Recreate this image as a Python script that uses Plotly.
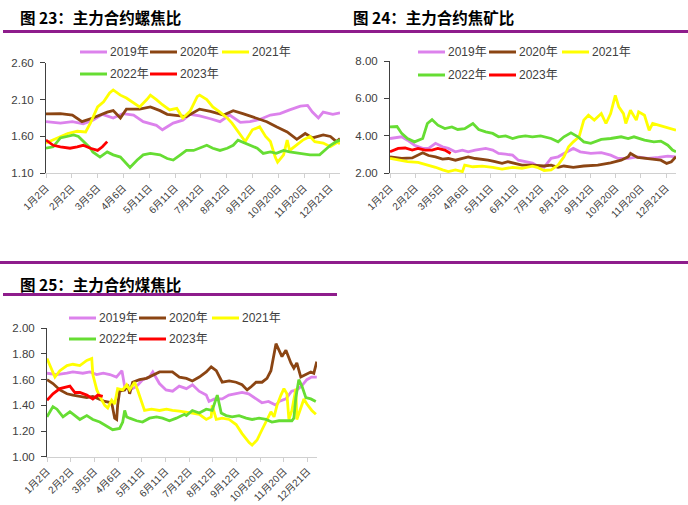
import plotly.graph_objects as go

W, H = 688, 505

# ---------------- data ----------------
TICK_DAYS = [0, 21.5, 43, 64.5, 86, 107.5, 129, 150.5, 172, 193.5, 215, 236.5]
TICK_TEXT = ["1月2日", "2月2日", "3月5日", "4月6日", "5月11日", "6月11日", "7月12日",
             "8月12日", "9月12日", "10月20日", "11月20日", "12月21日"]
YEARS = ["2019年", "2020年", "2021年", "2022年", "2023年"]
COLORS = ["#DC82EC", "#8B4513", "#FFFF00", "#66DD33", "#FF0000"]

# Chart 23: rebar / coke ratio
c1_d_2019 = [0, 12, 22, 31, 39, 47, 56, 64, 73, 81, 92, 97, 106, 114, 120, 128, 137, 145, 153, 162, 170, 178,
             187, 195, 203, 212, 218, 222, 227, 231, 239, 245]
c1_v_2019 = [1.80, 1.78, 1.80, 1.77, 1.82, 1.90, 1.85, 1.91, 1.89, 1.80, 1.75, 1.69, 1.78, 1.82, 1.90, 1.88,
             1.84, 1.80, 1.89, 1.79, 1.80, 1.83, 1.89, 1.91, 1.96, 2.01, 2.02, 1.93, 1.85, 1.93, 1.90, 1.92]
c1_d_2020 = [0, 12, 22, 30, 39, 51, 56, 62, 67, 78, 87, 95, 101, 109, 117, 128, 137, 148, 156, 164, 176, 184,
             192, 201, 209, 216, 222, 231, 237, 242, 245]
c1_v_2020 = [1.905, 1.91, 1.89, 1.80, 1.85, 1.93, 1.95, 1.85, 1.97, 1.97, 2.00, 1.95, 1.90, 1.88, 1.87, 1.97,
             1.94, 1.89, 1.95, 1.91, 1.85, 1.80, 1.73, 1.66, 1.56, 1.64, 1.58, 1.62, 1.60, 1.53, 1.57]
c1_d_2021 = [0, 6, 12, 18, 26, 33, 37, 43, 48, 53, 56, 62, 67, 73, 78, 84, 87, 92, 97, 103, 109, 114, 120, 126,
             128, 134, 139, 145, 151, 155, 162, 166, 172, 178, 183, 187, 191, 193, 198, 201, 203, 209, 214, 220,
             224, 231, 237, 243, 245]
c1_v_2021 = [1.51, 1.55, 1.60, 1.64, 1.67, 1.66, 1.78, 2.00, 2.07, 2.19, 2.23, 2.16, 2.12, 2.05, 2.00, 2.10,
             2.16, 2.10, 2.03, 1.96, 1.98, 1.85, 1.94, 2.14, 2.16, 2.10, 2.00, 1.93, 1.85, 1.78, 1.62, 1.53,
             1.69, 1.73, 1.60, 1.53, 1.32, 1.25, 1.35, 1.55, 1.41, 1.48, 1.55, 1.60, 1.53, 1.51, 1.46, 1.52, 1.50]
c1_d_2022 = [0, 6, 12, 18, 23, 27, 31, 37, 39, 45, 51, 56, 62, 67, 70, 76, 81, 87, 95, 101, 106, 112, 117, 123,
             128, 134, 139, 145, 151, 156, 160, 164, 170, 176, 181, 187, 192, 198, 203, 212, 220, 228, 232, 237,
             242, 245]
c1_v_2022 = [1.44, 1.46, 1.58, 1.60, 1.62, 1.60, 1.53, 1.44, 1.39, 1.32, 1.39, 1.35, 1.32, 1.24, 1.18, 1.28,
             1.35, 1.37, 1.35, 1.30, 1.28, 1.35, 1.41, 1.41, 1.44, 1.48, 1.44, 1.41, 1.44, 1.48, 1.55, 1.52,
             1.48, 1.44, 1.37, 1.39, 1.37, 1.41, 1.39, 1.37, 1.35, 1.35, 1.41, 1.48, 1.53, 1.55]
c1_d_2023 = [0, 6, 12, 20, 26, 31, 37, 43, 47, 51]
c1_v_2023 = [1.55, 1.48, 1.46, 1.44, 1.46, 1.48, 1.44, 1.41, 1.46, 1.53]

# Chart 24: coke / iron ore ratio
c2_d_2019 = [0, 10, 15, 21, 28, 33, 39, 45, 50, 56, 62, 67, 73, 82, 88, 93, 99, 105, 110, 116, 122, 126, 132,
             138, 144, 149, 155, 157, 163, 172, 181, 189, 195, 204, 212, 221, 230, 238, 245]
c2_v_2019 = [3.86, 3.95, 3.77, 3.50, 3.33, 3.33, 3.60, 3.42, 3.33, 3.15, 3.24, 3.15, 3.24, 3.33, 3.24, 3.06,
             3.02, 2.97, 2.70, 2.62, 2.55, 2.40, 2.32, 2.80, 2.88, 3.06, 3.24, 3.33, 3.15, 3.06, 3.10, 2.97,
             2.80, 2.80, 2.88, 2.80, 2.85, 2.92, 2.88]
c2_d_2020 = [0, 10, 19, 24, 28, 33, 39, 45, 50, 56, 62, 67, 73, 79, 84, 90, 96, 101, 107, 113, 122, 132, 138,
             144, 149, 157, 166, 178, 189, 198, 204, 206, 212, 218, 226, 232, 237, 241, 245]
c2_v_2020 = [2.88, 2.80, 2.82, 2.97, 3.10, 2.95, 2.88, 2.76, 2.79, 2.70, 2.82, 2.88, 2.79, 2.76, 2.70, 2.62,
             2.53, 2.62, 2.53, 2.44, 2.44, 2.39, 2.44, 2.32, 2.39, 2.32, 2.39, 2.44, 2.56, 2.70, 2.88, 3.06,
             2.85, 2.80, 2.75, 2.70, 2.53, 2.62, 2.88]
c2_d_2021 = [0, 7, 15, 24, 33, 39, 45, 50, 56, 62, 64, 71, 79, 88, 96, 105, 113, 122, 126, 132, 138, 144, 149,
             153, 157, 162, 166, 170, 175, 181, 185, 189, 193, 196, 200, 202, 206, 211, 213, 218, 222, 225, 230,
             235, 241, 245]
c2_v_2021 = [2.80, 2.70, 2.62, 2.58, 2.44, 2.32, 2.18, 2.09, 2.18, 2.09, 2.44, 2.35, 2.38, 2.32, 2.22, 2.32,
             2.27, 2.38, 2.32, 2.15, 2.18, 2.44, 2.88, 3.42, 3.68, 3.95, 4.84, 5.10, 4.84, 5.19, 4.66, 5.19,
             6.16, 5.55, 5.19, 4.66, 5.37, 4.84, 5.28, 5.10, 4.30, 4.66, 4.57, 4.48, 4.39, 4.30]
c2_d_2022 = [0, 6, 10, 15, 21, 28, 32, 36, 41, 47, 53, 58, 64, 71, 76, 82, 88, 93, 99, 105, 110, 116, 122, 129,
             138, 144, 149, 155, 161, 166, 172, 181, 189, 198, 204, 209, 218, 226, 232, 238, 242, 245]
c2_v_2022 = [4.48, 4.50, 4.13, 3.86, 3.68, 3.86, 4.66, 4.87, 4.57, 4.39, 4.48, 4.34, 4.39, 4.66, 4.34, 4.21,
             4.13, 3.95, 4.00, 3.86, 3.95, 4.00, 3.95, 4.00, 3.86, 3.68, 3.95, 4.16, 3.95, 3.68, 3.60, 3.81,
             3.86, 3.95, 3.86, 3.95, 3.77, 3.68, 3.72, 3.50, 3.24, 3.15]
c2_d_2023 = [0, 7, 13, 19, 24, 30, 36, 41, 47, 52]
c2_v_2023 = [3.15, 3.33, 3.35, 3.24, 3.33, 3.24, 3.24, 3.33, 3.24, 3.06]

# Chart 25: coal / coke ratio
c3_d_2019 = [0, 9, 18, 23.5, 32.5, 39, 45, 51, 57, 63, 68, 70.5, 75, 81, 87, 93, 96, 102, 108, 114, 120, 126.5,
             132, 138, 144.5, 147, 152, 159, 165, 171.6, 177, 183, 189.7, 195, 201, 207.8, 210.5, 216.8, 222,
             226.7, 231, 235.8, 240, 244.8]
c3_v_2019 = [1.65, 1.64, 1.65, 1.66, 1.65, 1.66, 1.64, 1.65, 1.64, 1.62, 1.67, 1.545, 1.52, 1.545, 1.60, 1.62,
             1.66, 1.57, 1.52, 1.51, 1.55, 1.53, 1.56, 1.51, 1.48, 1.43, 1.45, 1.45, 1.48, 1.49, 1.50, 1.49,
             1.45, 1.42, 1.43, 1.40, 1.43, 1.45, 1.51, 1.52, 1.55, 1.60, 1.62, 1.62]
c3_d_2020 = [0, 5.4, 11.7, 18.1, 23.5, 29.8, 36.1, 41.6, 47.9, 52.4, 58.7, 61.4, 63.2, 64.1, 65.9, 70.5, 73.2,
             75, 77.7, 84, 90.3, 95.7, 102.1, 108.4, 113.8, 120.1, 126.5, 131.9, 138.2, 144.5, 149, 153.6, 156.3,
             159, 165.3, 171.6, 177, 181.6, 185.2, 189.7, 195.1, 199.6, 203.2, 206, 207.8, 210.5, 213.2, 216.8,
             221.3, 224, 226.7, 230.3, 234.9, 239.4, 242.1, 244.8]
c3_v_2020 = [1.60, 1.57, 1.52, 1.49, 1.48, 1.47, 1.46, 1.47, 1.45, 1.43, 1.42, 1.30, 1.29, 1.40, 1.51, 1.52,
             1.56, 1.49, 1.58, 1.60, 1.61, 1.63, 1.66, 1.66, 1.66, 1.62, 1.61, 1.59, 1.62, 1.66, 1.70, 1.67,
             1.62, 1.58, 1.59, 1.58, 1.56, 1.52, 1.545, 1.58, 1.58, 1.61, 1.67, 1.80, 1.88, 1.83, 1.78, 1.83,
             1.73, 1.69, 1.73, 1.62, 1.64, 1.66, 1.65, 1.74]
c3_d_2021 = [0, 4.5, 7.2, 11.7, 18.1, 23.5, 29.8, 36.1, 40.6, 41.6, 45.2, 47.9, 52.4, 55.1, 58.7, 61.4, 64.1,
             68.7, 72.3, 75, 79.5, 82.2, 85.8, 88.5, 94.8, 102.1, 108.4, 113.8, 120.1, 126.5, 131.9, 138.2,
             144.5, 149, 149.9, 153.6, 159, 165.3, 171.6, 177, 183.4, 186.1, 190.6, 195.1, 199.6, 203.2, 206,
             208.7, 212.3, 215, 217.7, 219.5, 222.2, 224, 225.8, 226.7, 230.3, 233.1, 235.8, 240.3, 244]
c3_v_2021 = [1.765, 1.67, 1.62, 1.67, 1.71, 1.72, 1.71, 1.75, 1.765, 1.64, 1.52, 1.47, 1.40, 1.38, 1.44, 1.41,
             1.53, 1.52, 1.56, 1.52, 1.58, 1.52, 1.43, 1.36, 1.37, 1.36, 1.37, 1.36, 1.355, 1.35, 1.34, 1.33,
             1.29, 1.31, 1.40, 1.29, 1.30, 1.29, 1.25, 1.18, 1.11, 1.09, 1.13, 1.21, 1.29, 1.35, 1.31, 1.40,
             1.48, 1.53, 1.49, 1.29, 1.36, 1.45, 1.53, 1.29, 1.38, 1.45, 1.41, 1.36, 1.33]
c3_d_2022 = [0, 5.4, 9, 14.5, 20.8, 25.3, 29.8, 36.1, 41.6, 47.9, 54.2, 59.6, 65.9, 68.7, 70.5, 72.3, 75, 81.3,
             86.7, 93, 99.4, 104.8, 111.1, 117.4, 124.7, 126.5, 131.9, 138.2, 144.5, 149.9, 154.5, 158.1, 162.6,
             168, 174.3, 180.7, 186.1, 192.4, 198.7, 204.1, 210.5, 216.8, 222.2, 224, 225.8, 228.5, 231.3, 234.9,
             239.4, 243.9]
c3_v_2022 = [1.31, 1.39, 1.37, 1.31, 1.35, 1.32, 1.29, 1.32, 1.29, 1.27, 1.235, 1.21, 1.22, 1.27, 1.36, 1.31,
             1.30, 1.28, 1.27, 1.30, 1.31, 1.30, 1.28, 1.30, 1.33, 1.32, 1.36, 1.34, 1.37, 1.36, 1.48, 1.34,
             1.32, 1.31, 1.32, 1.30, 1.29, 1.30, 1.29, 1.27, 1.28, 1.28, 1.28, 1.30, 1.46, 1.60, 1.55, 1.46,
             1.45, 1.43]
c3_d_2023 = [0, 5.4, 11.7, 18.1, 20.8, 25.3, 29.8, 36.1, 41.6, 46.1, 50.6]
c3_v_2023 = [1.44, 1.49, 1.53, 1.54, 1.55, 1.50, 1.50, 1.48, 1.45, 1.48, 1.47]

C1_YTICKS = [1.10, 1.60, 2.10, 2.60]
C2_YTICKS = [2.00, 4.00, 6.00, 8.00]
C3_YTICKS = [1.00, 1.20, 1.40, 1.60, 1.80, 2.00]

TITLES = ["图 23：主力合约螺焦比", "图 24：主力合约焦矿比", "图 25：主力合约煤焦比"]

# ---------------- figure ----------------
FONT = "Liberation Sans, Arial, Noto Sans CJK SC, sans-serif"
CJK = "Noto Sans CJK SC, sans-serif"
TXT = "#404040"
PURPLE = "#8E1C8C"

fig = go.Figure()

series = [
    ("x", "y", [(c1_d_2019, c1_v_2019), (c1_d_2020, c1_v_2020), (c1_d_2021, c1_v_2021),
                (c1_d_2022, c1_v_2022), (c1_d_2023, c1_v_2023)]),
    ("x2", "y2", [(c2_d_2019, c2_v_2019), (c2_d_2020, c2_v_2020), (c2_d_2021, c2_v_2021),
                  (c2_d_2022, c2_v_2022), (c2_d_2023, c2_v_2023)]),
    ("x3", "y3", [(c3_d_2019, c3_v_2019), (c3_d_2020, c3_v_2020), (c3_d_2021, c3_v_2021),
                  (c3_d_2022, c3_v_2022), (c3_d_2023, c3_v_2023)]),
]
for xa, ya, data in series:
    for (d, v), name, col in zip(data, YEARS, COLORS):
        fig.add_trace(go.Scatter(x=d, y=v, mode="lines", name=name, xaxis=xa, yaxis=ya,
                                 line=dict(color=col, width=2.8), showlegend=False,
                                 hoverinfo="skip"))


def px_x(p):
    return p / W


def px_y(p):
    return 1 - p / H


def xaxis(x0, x1, anchor):
    return dict(domain=[px_x(x0), px_x(x1)], range=[0, 245], anchor=anchor, automargin=False,
                tickmode="array", tickvals=TICK_DAYS, ticktext=TICK_TEXT, tickangle=-45,
                showline=True, linecolor="#D0D0D0", linewidth=1, ticks="outside", ticklen=4,
                tickcolor="#D0D0D0", showgrid=False, zeroline=False,
                tickfont=dict(family=FONT, size=10, color=TXT))


def yaxis(y_bottom, y_top, ticks, anchor):
    return dict(domain=[px_y(y_bottom), px_y(y_top)], range=[ticks[0], ticks[-1]], anchor=anchor,
                automargin=False,
                tickmode="array", tickvals=ticks, tickformat=".2f",
                showline=True, linecolor="#404040", linewidth=1, ticks="outside", ticklen=5,
                tickcolor="#404040", showgrid=False, zeroline=False, ticklabelstandoff=4,
                tickfont=dict(family=FONT, size=11.5, color=TXT))


fig.update_layout(
    width=W, height=H, autosize=False,
    margin=dict(l=0, r=0, t=0, b=0, pad=0),
    paper_bgcolor="white", plot_bgcolor="white",
    xaxis=xaxis(46, 340, "y"),
    yaxis=yaxis(173.3, 62.7, C1_YTICKS, "x"),
    xaxis2=xaxis(390, 676, "y2"),
    yaxis2=yaxis(173.3, 61.0, C2_YTICKS, "x2"),
    xaxis3=xaxis(47, 317, "y3"),
    yaxis3=yaxis(456.7, 328.3, C3_YTICKS, "x3"),
)

shapes = []
annotations = []

# purple separator rules
for (x0, x1, y) in [(3, 688, 31.5), (0, 688, 262.5), (3, 337, 294.5)]:
    shapes.append(dict(type="line", xref="paper", yref="paper", x0=px_x(x0), x1=px_x(x1),
                       y0=px_y(y), y1=px_y(y), line=dict(color=PURPLE, width=3)))

# titles
for title, (x, y) in zip(TITLES, [(18, 16.5), (351, 16.5), (18, 283.5)]):
    annotations.append(dict(text="<b>" + title + "</b>", xref="paper", yref="paper",
                            x=px_x(x), y=px_y(y), xanchor="left", yanchor="middle", showarrow=False,
                            font=dict(family=CJK, size=15.5, color="#000000")))

# legends (manual two-row layout)
legend_layouts = [
    ([(80, 52), (150, 52), (222, 52), (80, 74), (150, 74)]),
    ([(418, 52), (489, 52), (562, 52), (418, 75), (489, 75)]),
    ([(69, 318), (139, 318), (212, 318), (69, 339), (139, 339)]),
]
for positions in legend_layouts:
    for (x, y), name, col in zip(positions, YEARS, COLORS):
        shapes.append(dict(type="line", xref="paper", yref="paper", x0=px_x(x), x1=px_x(x + 27),
                           y0=px_y(y), y1=px_y(y), line=dict(color=col, width=3)))
        annotations.append(dict(text=name, xref="paper", yref="paper", x=px_x(x + 28), y=px_y(y),
                                xanchor="left", yanchor="middle", showarrow=False,
                                font=dict(family=FONT, size=12, color=TXT)))

fig.update_layout(shapes=shapes, annotations=annotations)

fig.write_html("out.html")
